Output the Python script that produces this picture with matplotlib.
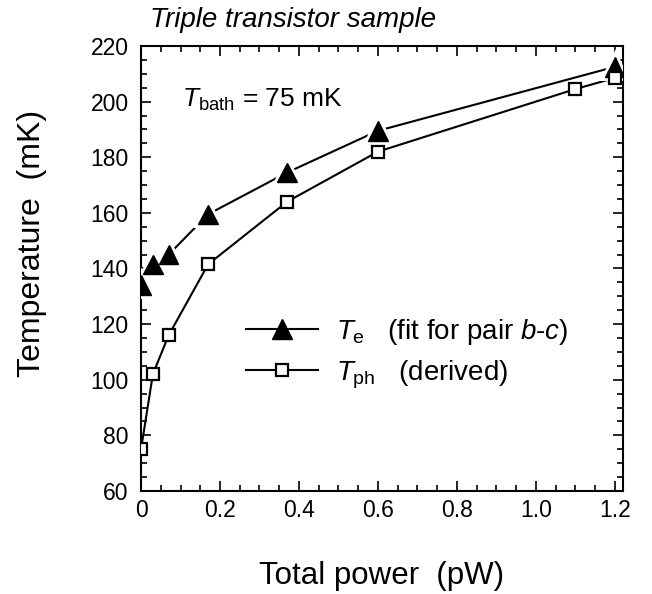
import matplotlib
matplotlib.use("Agg")
import matplotlib.pyplot as plt
import matplotlib.patheffects as pe
from matplotlib.lines import Line2D
from matplotlib.ticker import MultipleLocator

plt.rcParams['font.family'] = ['Liberation Sans', 'DejaVu Sans']
plt.rcParams['mathtext.fontset'] = 'custom'
plt.rcParams['mathtext.rm'] = 'Liberation Sans'
plt.rcParams['mathtext.it'] = 'Liberation Sans:italic'

# data
power_e = [0.0, 0.03, 0.07, 0.17, 0.37, 0.60, 1.20]
temp_e = [134, 141.5, 145, 159.5, 174.5, 189.5, 212.5]
power_ph = [0.0, 0.03, 0.07, 0.17, 0.37, 0.60, 1.10, 1.20]
temp_ph = [75, 102, 116, 141.5, 164, 182, 204.5, 208.5]

xticks = [0, 0.2, 0.4, 0.6, 0.8, 1.0, 1.2]
xticklabels = ['0', '0.2', '0.4', '0.6', '0.8', '1.0', '1.2']
yticks = [60, 80, 100, 120, 140, 160, 180, 200, 220]

fig = plt.figure(figsize=(6.52, 5.94), dpi=100)
ax = fig.add_axes([0.2163, 0.1734, 0.7387, 0.7492])

halo = [pe.Stroke(linewidth=5, foreground='white'), pe.Normal()]

ax.plot(power_e, temp_e, color='black', lw=1.5, zorder=2)
ax.plot(power_e, temp_e, ls='none', marker='^', ms=14, color='black',
        zorder=3, path_effects=halo)
ax.plot(power_ph, temp_ph, color='black', lw=1.5, zorder=2)
ax.plot(power_ph, temp_ph, ls='none', marker='s', ms=8, mfc='white',
        mec='black', mew=1.6, zorder=3)

ax.set_xlim(0, 1.22)
ax.set_ylim(60, 220)
ax.set_xticks(xticks)
ax.set_xticklabels(xticklabels)
ax.set_yticks(yticks)
ax.xaxis.set_minor_locator(MultipleLocator(0.05))
ax.yaxis.set_minor_locator(MultipleLocator(5))
ax.tick_params(which='both', direction='in', top=True, right=True,
               labelsize=16.5, width=1.2)
ax.tick_params(which='major', length=7)
ax.tick_params(which='minor', length=4)
ax.tick_params(axis='x', which='major', pad=6)
ax.tick_params(axis='y', which='major', pad=9)
for s in ax.spines.values():
    s.set_linewidth(1.5)

ax.set_xlabel('Total power  (pW)', fontsize=22.5)
ax.xaxis.set_label_coords(0.5, -0.158)
ax.set_ylabel('Temperature  (mK)', fontsize=23)
ax.yaxis.set_label_coords(-0.195, 0.556)

fig.text(0.23, 1 - 27 / 594, 'Triple transistor sample', style='italic',
         fontsize=20, va='baseline', ha='left')
ax.text(0.105, 198, r'$T_\mathrm{bath}$ = 75 mK', fontsize=19,
        va='baseline', ha='left')

hd1 = Line2D([], [], color='black', lw=1.5, marker='^', ms=14)
hd2 = Line2D([], [], color='black', lw=1.5, marker='s', ms=8, mfc='white',
             mec='black', mew=1.6)
ax.legend([hd1, hd2],
          [r'$T_\mathrm{e}$   (fit for pair $b$-$c$)',
           r'$T_\mathrm{ph}$   (derived)'],
          loc='upper left', bbox_to_anchor=(0.218, 0.391),
          frameon=False, fontsize=20, handlelength=2.6, handletextpad=0.65,
          borderpad=0, borderaxespad=0, labelspacing=0.41, numpoints=1)

fig.savefig('out.png', dpi=100)
